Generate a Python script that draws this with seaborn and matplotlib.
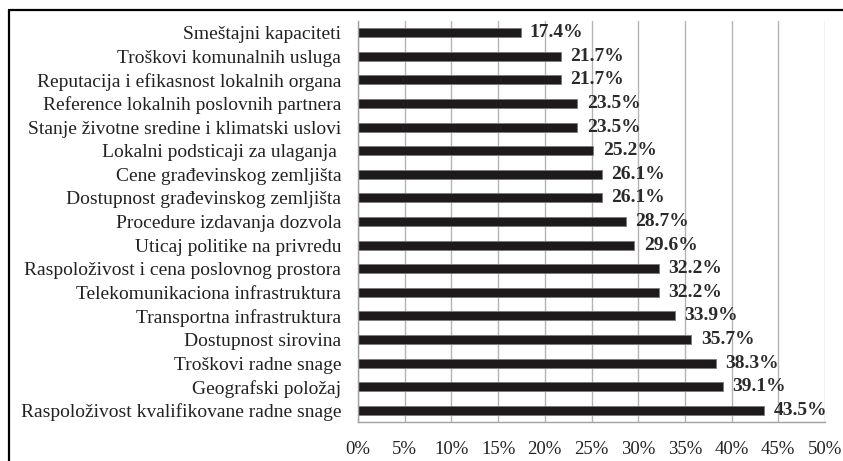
import seaborn as sns
import pandas as pd
import matplotlib.pyplot as plt
import numpy as np
from matplotlib.lines import Line2D

categories = [
    "Smeštajni kapaciteti",
    "Troškovi komunalnih usluga",
    "Reputacija i efikasnost lokalnih organa",
    "Reference lokalnih poslovnih partnera",
    "Stanje životne sredine i klimatski uslovi",
    "Lokalni podsticaji za ulaganja ",
    "Cene građevinskog zemljišta",
    "Dostupnost građevinskog zemljišta",
    "Procedure izdavanja dozvola",
    "Uticaj politike na privredu",
    "Raspoloživost i cena poslovnog prostora",
    "Telekomunikaciona infrastruktura",
    "Transportna infrastruktura",
    "Dostupnost sirovina",
    "Troškovi radne snage",
    "Geografski položaj",
    "Raspoloživost kvalifikovane radne snage",
]
values = [17.4, 21.7, 21.7, 23.5, 23.5, 25.2, 26.1, 26.1, 28.7, 29.6,
          32.2, 32.2, 33.9, 35.7, 38.3, 39.1, 43.5]
xticks = [0, 5, 10, 15, 20, 25, 30, 35, 40, 45, 50]

df = pd.DataFrame({"kategorija": categories, "procenat": values})

sns.set_style("white")
plt.rcParams["font.family"] = ["Liberation Serif", "DejaVu Serif"]

fig = plt.figure(figsize=(8.43, 4.61), dpi=100)
ax = fig.add_axes([358 / 843, 1 - 422 / 461, (825 - 358) / 843, (422 - 21) / 461])

sns.barplot(ax=ax, data=df, x="procenat", y="kategorija", orient="h",
            color="#1e1a1b", edgecolor="#7a7a7a", linewidth=0.6,
            width=0.38, saturation=1)

for i, v in enumerate(values):
    ax.text(v + 1.0, i, f"{v:.1f}%", va="center", ha="left",
            fontsize=14, fontweight="bold", color="#2a2a2a")

ax.set_xlim(0, 50)
ax.set_ylim(len(categories) - 0.5, -0.5)
ax.set_xticks(xticks)
ax.set_xticklabels([f"{t}%" for t in xticks], fontsize=13.5, color="#222222")
ax.tick_params(axis="x", length=6, width=1, color="#a0a0a0", pad=8)
ax.set_yticks(range(len(categories)))
ax.set_yticklabels(categories, fontsize=14, color="#222222")
ax.set_yticks(np.arange(-0.5, len(categories), 1), minor=True)
ax.tick_params(axis="y", which="major", length=0, pad=12)
ax.tick_params(axis="y", which="minor", length=5, width=1, color="#a0a0a0")
ax.grid(axis="x", color="#b4b4b4", linewidth=1)
ax.set_axisbelow(True)
ax.set_xlabel("")
ax.set_ylabel("")
for s in ["top", "right"]:
    ax.spines[s].set_visible(False)
for s in ["left", "bottom"]:
    ax.spines[s].set_color("#a0a0a0")
    ax.spines[s].set_linewidth(1)

# okvir oko slike (desna i donja ivica su odsečene)
fig.add_artist(Line2D([8.5 / 843, 1.0], [1 - 10.5 / 461] * 2, color="black", linewidth=1.6))
fig.add_artist(Line2D([8.5 / 843] * 2, [0, 1 - 10.5 / 461], color="black", linewidth=1.6))

fig.savefig("out.png", dpi=100)
